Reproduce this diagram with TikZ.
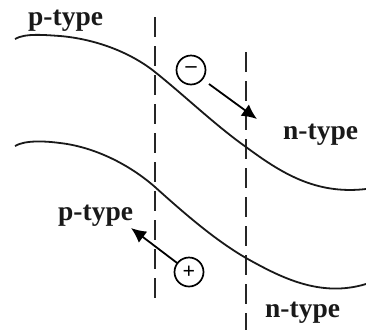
\documentclass[tikz,border=0pt]{standalone}
\usepackage{fontspec}
\setmainfont{Liberation Serif}
\usetikzlibrary{arrows.meta}
\tikzset{
  lbl/.style={inner sep=0pt,font=\bfseries\fontsize{27.5}{30}\selectfont,text=black!90},
  band/.style={line width=1.8pt,black!90},
  bound/.style={line width=1.7pt,dash pattern=on 20pt off 9pt,black!85},
  carrier/.style={circle,draw,line width=1.7pt,minimum size=29pt,inner sep=0pt,font=\bfseries\fontsize{22}{22}\selectfont},
  flow/.style={line width=1.8pt,-{Latex[length=15pt,width=14pt]}}
}
\begin{document}
\begin{tikzpicture}[x=1pt,y=-1pt]
\useasboundingbox (0,0) rectangle (366,330);
\coordinate (b1s) at (155,17); \coordinate (b1e) at (155,302);
\coordinate (b2s) at (246,52); \coordinate (b2e) at (246,330);
\draw[bound] (b1s) -- (b1e);
\draw[bound] (b2s) -- (b2e);
\draw[band] (15,39) .. controls (25,33) and (45,35) .. (60,36)
  .. controls (95,39) and (130,52) .. (155,72)
  .. controls (185,96) and (215,125) .. (246,147)
  .. controls (280,172) and (315,195) .. (366,189);
\draw[band] (15,146) .. controls (25,140) and (45,141) .. (60,143)
  .. controls (95,147) and (130,165) .. (155,187)
  .. controls (185,214) and (215,240) .. (246,258)
  .. controls (280,277) and (320,298) .. (366,284);
\node[lbl,anchor=base west] (p1) at (28,25) {p-type};
\node[lbl,anchor=base west] (n1) at (283,139) {n-type};
\node[lbl,anchor=base west] (p2) at (58,220) {p-type};
\node[lbl,anchor=base west] (n2) at (265,317) {n-type};
\node[carrier] (minus) at (191,70) {–};
\node[carrier] (plus) at (189,272) {+};
\coordinate (mEnd) at (257,119);
\coordinate (pEnd) at (131,228);
\coordinate (mStart) at (209,84);
\draw[flow] (mStart) -- (mEnd);
\draw[flow] (plus) -- (pEnd);
\end{tikzpicture}
\end{document}
